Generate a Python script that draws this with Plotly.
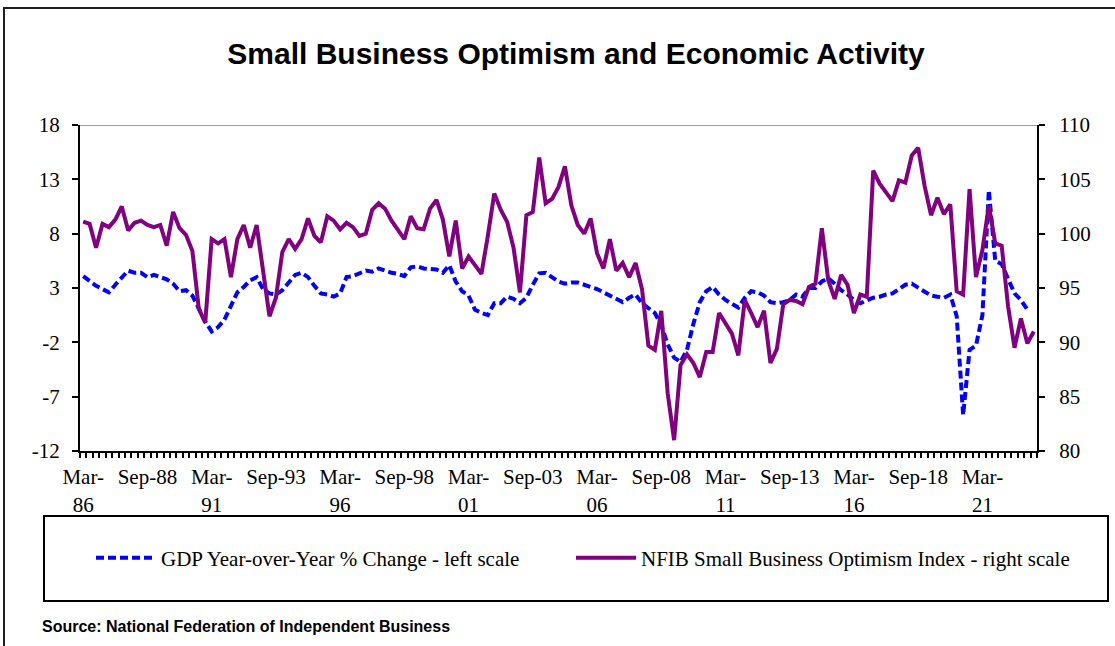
import plotly.graph_objects as go

# ---------------- data ----------------
start_year = 1986
n_quarters = 149  # Mar-86 ... Mar-23
month_names = ["Mar", "Jun", "Sep", "Dec"]
quarter_labels = [f"{month_names[k % 4]}-{(start_year + k // 4) % 100:02d}" for k in range(n_quarters)]

gdp_yoy = [
    4.1, 3.6, 3.2, 2.9, 2.6, 3.3, 3.9, 4.6, 4.4, 4.4,
    4.0, 4.2, 4.0, 3.8, 3.4, 2.7, 2.8, 2.3, 1.1, -0.1,
    -1.0, -0.6, 0.1, 1.3, 2.6, 3.1, 3.7, 4.0, 2.9, 2.5,
    2.4, 2.8, 3.5, 4.2, 4.4, 4.0, 3.2, 2.5, 2.4, 2.2,
    2.5, 4.0, 4.1, 4.4, 4.6, 4.5, 4.8, 4.6, 4.4, 4.3,
    4.1, 4.9, 5.0, 4.8, 4.75, 4.7, 4.4, 5.1, 3.6, 2.7,
    2.3, 1.0, 0.7, 0.5, 1.6, 1.6, 2.2, 2.0, 1.6, 2.1,
    3.3, 4.35, 4.4, 4.0, 3.6, 3.4, 3.5, 3.5, 3.3, 3.1,
    2.9, 2.6, 2.3, 2.1, 1.7, 2.1, 2.4, 1.6, 1.2, 0.7,
    -0.4, -2.2, -3.4, -3.8, -2.7, -0.3, 1.7, 2.7, 3.1, 2.4,
    1.9, 1.6, 1.2, 2.1, 2.7, 2.6, 2.3, 1.7, 1.6, 1.7,
    1.9, 2.4, 2.2, 3.0, 3.0, 3.6, 3.9, 3.4, 2.8, 2.4,
    1.9, 1.6, 1.9, 2.1, 2.2, 2.4, 2.5, 2.9, 3.3, 3.4,
    3.0, 2.6, 2.3, 2.2, 2.1, 2.4, 0.4, -8.7, -2.7, -2.3,
    0.5, 12.0, 5.5, 5.2, 3.9, 2.5, 1.9, 1.0, None,
]

nfib_index = [
    101.1, 100.9, 98.7, 100.9, 100.6, 101.3, 102.5, 100.3, 101.0, 101.2,
    100.8, 100.6, 100.8, 98.9, 102.0, 100.5, 99.9, 98.4, 93.1, 91.8,
    99.5, 99.1, 99.5, 96.0, 99.5, 100.8, 98.7, 100.8, 96.6, 92.4,
    94.1, 98.3, 99.5, 98.6, 99.5, 101.4, 99.8, 99.2, 101.6, 101.2,
    100.4, 101.0, 100.6, 99.8, 100.0, 102.2, 102.8, 102.3, 101.2, 100.4,
    99.5, 101.6, 100.5, 100.4, 102.3, 103.1, 101.3, 97.9, 101.2, 96.8,
    97.9, 97.1, 96.3, 99.8, 103.7, 102.2, 101.1, 98.7, 94.6, 101.7,
    102.0, 107.0, 102.8, 103.2, 104.3, 106.2, 102.6, 100.8, 100.0, 101.4,
    98.2, 96.8, 99.5, 96.6, 97.3, 96.0, 97.3, 94.9, 89.7, 89.3,
    92.9, 85.3, 81.0, 87.9, 88.9, 88.1, 86.8, 89.1, 89.1, 92.7,
    91.8, 90.8, 88.8, 93.9, 92.7, 91.4, 92.9, 88.1, 89.4, 93.5,
    93.9, 93.8, 93.5, 95.1, 95.4, 100.5, 95.7, 94.0, 96.2, 95.3,
    92.7, 94.4, 94.2, 105.8, 104.6, 103.8, 103.0, 104.9, 104.7, 107.2,
    107.9, 104.4, 101.7, 103.3, 101.8, 102.7, 94.7, 94.4, 104.1, 96.0,
    98.5, 102.6, 99.1, 98.9, 93.3, 89.5, 92.2, 89.9, 91.0,
]

label_every = 10
wrapped_months = {"Mar"}  # Excel wrapped these labels onto two lines
left_ticks = [-12, -7, -2, 3, 8, 13, 18]
right_ticks = [80, 85, 90, 95, 100, 105, 110]

gdp_name = "GDP Year-over-Year % Change - left scale"
nfib_name = "NFIB Small Business Optimism Index - right scale"
title_text = "Small Business Optimism and Economic Activity"
source_text = "Source: National Federation of Independent Business"

# ---------------- figure ----------------
W, H = 1115, 646
L, R, T, B = 80, 78, 125, 195
pw, ph = W - L - R, H - T - B

def px_x(px):
    return (px - L) / pw

def px_y(py):
    return (H - B - py) / ph

x_pos = list(range(n_quarters))
boundaries = [k - 0.5 for k in range(n_quarters + 1)]
tick_pos = x_pos[::label_every]
tick_txt = []
for k in tick_pos:
    m, yy = quarter_labels[k].split("-")
    tick_txt.append(f"{m}-<br>{yy}" if m in wrapped_months else quarter_labels[k])

serif = "Liberation Serif, Times New Roman, serif"
sans = "Liberation Sans, Arial, sans-serif"
tick_size = 21

fig = go.Figure()
fig.add_trace(go.Scatter(
    x=x_pos, y=gdp_yoy, name=gdp_name, mode="lines",
    line=dict(color="#0000FF", width=4, dash="8px,4px"),
    xaxis="x", yaxis="y", legend="legend",
))
fig.add_trace(go.Scatter(
    x=x_pos, y=nfib_index, name=nfib_name, mode="lines",
    line=dict(color="#800080", width=4),
    xaxis="x", yaxis="y2", legend="legend2",
))

xr = [-0.5, n_quarters - 0.5]
common = dict(showgrid=False, zeroline=False, automargin=False)
legend_common = dict(
    orientation="h", xanchor="left", y=px_y(558), yanchor="middle",
    itemwidth=60, font=dict(family=serif, size=21, color="black"),
    bgcolor="rgba(0,0,0,0)", borderwidth=0,
)

fig.update_layout(
    width=W, height=H,
    template="none",
    paper_bgcolor="white", plot_bgcolor="white",
    margin=dict(l=L, r=R, t=T, b=B, autoexpand=False),
    showlegend=True,
    title=dict(
        text=title_text, x=576 / W, xanchor="center", xref="container",
        y=1 - 53 / H, yref="container", yanchor="middle",
        font=dict(family=sans, size=30, color="black", weight="bold"),
    ),
    xaxis=dict(
        range=xr, tickmode="array", tickvals=tick_pos, ticktext=tick_txt,
        ticks="", showline=True, linecolor="black", linewidth=2,
        tickfont=dict(family=serif, size=tick_size, color="black"),
        ticklabelstandoff=6,
        minor=dict(tickmode="array", tickvals=boundaries, ticks="outside",
                   ticklen=5, tickwidth=2, tickcolor="black", showgrid=False),
        **common,
    ),
    xaxis2=dict(
        range=xr, overlaying="x", matches="x", anchor="y", side="bottom",
        tickmode="array", tickvals=boundaries, ticks="inside", ticklen=5,
        tickwidth=2, tickcolor="black", showticklabels=False, showline=False,
        **common,
    ),
    yaxis=dict(
        range=[left_ticks[0], left_ticks[-1]], tickmode="array", tickvals=left_ticks,
        ticktext=[str(v) for v in left_ticks],
        ticks="outside", ticklen=6, tickwidth=2, tickcolor="black",
        showline=True, linecolor="black", linewidth=2,
        tickfont=dict(family=serif, size=tick_size, color="black"),
        ticklabelstandoff=8,
        **common,
    ),
    yaxis3=dict(
        range=[left_ticks[0], left_ticks[-1]], overlaying="y", matches="y",
        anchor="x", side="left", tickmode="array", tickvals=left_ticks,
        ticks="inside", ticklen=6, tickwidth=2, tickcolor="black",
        showticklabels=False, showline=False, **common,
    ),
    yaxis2=dict(
        range=[right_ticks[0], right_ticks[-1]], overlaying="y", anchor="x",
        side="right", tickmode="array", tickvals=right_ticks,
        ticktext=[str(v) for v in right_ticks],
        ticks="outside", ticklen=6, tickwidth=2, tickcolor="black",
        showline=True, linecolor="black", linewidth=2,
        tickfont=dict(family=serif, size=tick_size, color="black"),
        ticklabelstandoff=10,
        **common,
    ),
    yaxis4=dict(
        range=[right_ticks[0], right_ticks[-1]], overlaying="y", matches="y2",
        anchor="x", side="right", tickmode="array", tickvals=right_ticks,
        ticks="inside", ticklen=6, tickwidth=2, tickcolor="black",
        showticklabels=False, showline=False, **common,
    ),
    legend=dict(x=px_x(91), **legend_common),
    legend2=dict(x=px_x(571), **legend_common),
    annotations=[dict(
        text=source_text, xref="paper", yref="paper", x=px_x(40), y=px_y(626),
        xanchor="left", yanchor="middle", showarrow=False,
        font=dict(family=sans, size=16, color="black", weight="bold"),
    )],
    shapes=[
        # gray line along the top of the plot area (18 / 110)
        dict(type="line", xref="x domain", yref="y", x0=0, x1=1, y0=left_ticks[-1], y1=left_ticks[-1],
             line=dict(color="#A0A0A0", width=2), layer="below"),
        # legend box
        dict(type="rect", xref="paper", yref="paper", x0=px_x(44), x1=px_x(1108),
             y0=px_y(601), y1=px_y(516), line=dict(color="black", width=2)),
        # outer chart frame
        dict(type="rect", xref="paper", yref="paper", x0=px_x(4), x1=px_x(1125),
             y0=px_y(660), y1=px_y(8), line=dict(color="#202020", width=2)),
    ],
)

fig.write_html("out.html")
